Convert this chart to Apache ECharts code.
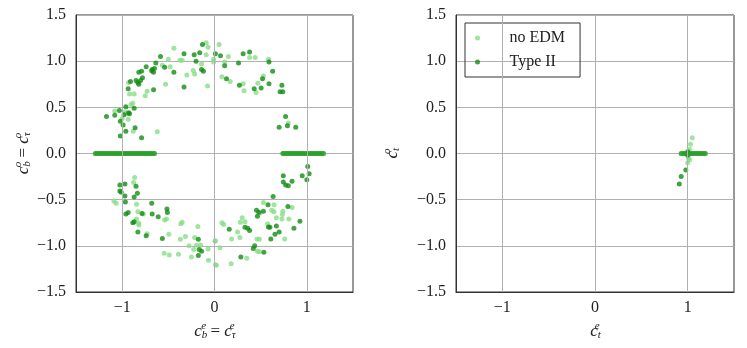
<!DOCTYPE html>
<html>
<head>
<meta charset="utf-8">
<script src="https://cdn.jsdelivr.net/npm/echarts@6/dist/echarts.min.js"></script>
</head>
<body style="margin:0; background:#fff">
<div id="chart" style="width:747px;height:348px"></div>
<script>
  // tick labels
  var xTicks = [-1, 0, 1];
  var yTicks = [-1.5, -1.0, -0.5, 0.0, 0.5, 1.0, 1.5];

  // left panel: c_b = c_tau
  var leftNoEdm = [
    [-1.08, 0.46], [-0.94, 0.43], [-0.935, 0.37], [-0.93, 0.77], [-0.92, 0.645], [-0.87, 0.645],
    [-0.905, 0.53], [-0.885, 0.545], [-0.88, 0.24], [-0.62, 0.235], [-0.73, 0.675], [-0.75, 0.625],
    [-0.53, 0.75], [-0.565, 0.955], [-0.50, 1.02], [-0.44, 1.14], [-0.48, 0.94], [-0.375, 1.01],
    [-0.35, 1.01], [-0.23, 0.90], [-0.215, 0.86], [-0.30, 0.85], [-0.14, 0.97], [-0.09, 1.20],
    [-0.07, 1.15], [-0.075, 0.73], [-0.09, 1.07], [-0.01, 1.02], [-0.01, 0.99], [0.05, 1.18],
    [0.11, 0.99], [0.15, 1.05], [0.08, 0.83], [0.17, 0.78], [0.31, 0.755], [0.32, 0.68],
    [0.38, 1.04], [0.44, 1.04], [0.45, 0.66], [0.47, 0.76], [0.53, 0.84], [0.585, 1.02],
    [0.80, 0.33], [-1.0, 0.38], [-0.97, 0.45],
    [-0.865, -0.26], [-0.875, -0.315], [-1.09, -0.515], [-1.065, -0.54], [-0.845, -0.55],
    [-0.83, -0.63], [-0.77, -0.655], [-0.845, -0.71], [-0.82, -0.755], [-0.82, -0.775],
    [-0.54, -0.72], [-0.52, -0.71], [-0.495, -0.875], [-0.73, -0.87], [-0.365, -0.76],
    [-0.35, -0.745], [-0.18, -0.79], [-0.37, -0.93], [-0.315, -0.90], [-0.215, -0.91],
    [-0.275, -1.00], [-0.225, -1.04], [-0.195, -0.995], [-0.15, -0.99], [-0.07, -1.035],
    [0.005, -0.95], [0.01, -1.205], [-0.545, -1.08], [-0.49, -1.10], [-0.39, -1.09],
    [-0.25, -1.12], [-0.065, -1.155],
    [0.53, -0.53], [0.645, -0.555], [0.84, -0.585], [0.62, -0.615], [0.645, -0.63],
    [0.74, -0.625], [0.735, -0.66], [0.67, -0.695], [0.73, -0.71], [0.805, -0.71],
    [0.495, -0.645], [0.30, -0.695], [0.33, -0.74], [0.08, -0.75], [0.10, -0.77],
    [0.28, -0.745], [0.575, -0.76], [0.25, -0.85], [0.185, -0.925], [0.275, -0.91],
    [0.46, -0.925], [0.485, -0.93], [0.76, -0.925], [0.01, -0.945], [0.06, -1.02],
    [0.465, -1.06], [0.485, -1.065], [0.35, -1.135], [0.18, -1.195], [0.02, -1.21]
  ];
  var leftType2 = [
    [-1.17, 0.40], [-1.08, 0.415], [-1.03, 0.465], [-0.98, 0.42], [-0.96, 0.505], [-0.93, 0.44],
    [-0.92, 0.43], [-0.87, 0.49], [-1.02, 0.35], [-0.99, 0.31], [-0.96, 0.24], [-1.02, 0.19],
    [-0.86, 0.28], [-0.79, 0.17], [-0.935, 0.70], [-0.91, 0.78], [-0.83, 0.77], [-0.82, 0.75],
    [-0.80, 0.79], [-0.78, 0.82], [-0.85, 0.79], [-0.82, 0.88], [-0.79, 0.89], [-0.74, 0.94],
    [-0.68, 0.895], [-0.675, 0.91], [-0.66, 0.88], [-0.65, 0.92], [-0.635, 0.98], [-0.585, 1.05],
    [-0.66, 0.69], [-0.54, 0.935], [-0.44, 0.88], [-0.33, 0.72], [-0.33, 1.08], [-0.22, 1.07],
    [-0.13, 1.18], [-0.16, 1.09], [-0.20, 1.00], [-0.14, 0.91], [-0.12, 0.89], [0.01, 1.08],
    [0.065, 1.06], [0.11, 0.95], [0.13, 0.81], [0.26, 0.98], [0.31, 1.08], [0.38, 1.10],
    [0.27, 0.74], [0.43, 0.70], [0.52, 0.81], [0.505, 0.71], [0.59, 0.99], [0.63, 0.89],
    [0.59, 0.755], [0.73, 0.74], [0.71, 0.67], [0.74, 0.67], [0.77, 0.40], [0.70, 0.285],
    [0.79, 0.30], [0.88, 0.285],
    [-1.025, -0.34], [-0.97, -0.33], [-0.85, -0.355], [-1.025, -0.405], [-1.01, -0.42],
    [-0.97, -0.46], [-0.87, -0.47], [-0.835, -0.43], [-0.965, -0.525], [-0.68, -0.54],
    [-0.96, -0.655], [-0.935, -0.64], [-0.785, -0.65], [-0.675, -0.655], [-0.515, -0.60],
    [-0.51, -0.64], [-0.61, -0.685], [-0.885, -0.75], [-0.87, -0.74], [-0.83, -0.85],
    [-0.74, -0.89], [-0.565, -0.92], [-0.175, -0.93], [-0.165, -1.04], [-0.14, -1.06],
    [-0.175, -1.105],
    [1.01, -0.14], [1.025, -0.22], [0.95, -0.24], [1.00, -0.285], [0.745, -0.24], [0.745, -0.31],
    [0.77, -0.34], [0.80, -0.35], [0.84, -0.30], [0.635, -0.465], [0.58, -0.555], [0.795, -0.575],
    [0.455, -0.615], [0.53, -0.625], [0.465, -0.68], [0.48, -0.635], [0.925, -0.735], [0.86, -0.81],
    [0.33, -0.80], [0.36, -0.81], [0.38, -0.835], [0.16, -0.82], [0.585, -0.795], [0.60, -0.80],
    [0.67, -0.785], [0.70, -0.85], [0.655, -0.875], [0.61, -0.925], [0.435, -1.00], [0.42, -1.03],
    [0.535, -1.07], [0.285, -1.12]
  ];
  // dense row of points on c^o = 0
  var leftBandX = [
    -1.29, -1.27, -1.25, -1.23, -1.21, -1.19, -1.17, -1.15, -1.13, -1.11, -1.09, -1.07,
    -1.05, -1.03, -1.01, -0.99, -0.97, -0.95, -0.93, -0.91, -0.89, -0.87, -0.85, -0.83,
    -0.81, -0.79, -0.77, -0.75, -0.73, -0.71, -0.69, -0.67, -0.65,
    0.74, 0.76, 0.78, 0.80, 0.82, 0.84, 0.86, 0.88, 0.90, 0.92, 0.94, 0.96,
    0.98, 1.00, 1.02, 1.04, 1.06, 1.08, 1.10, 1.12, 1.14, 1.16, 1.18
  ];

  // right panel: c_t
  var rightNoEdm = [
    [1.05, 0.17], [1.03, 0.10], [1.02, 0.045], [1.01, -0.05], [1.02, -0.07], [1.00, -0.10], [1.01, 0.02]
  ];
  var rightType2 = [
    [0.98, -0.18], [0.93, -0.25], [0.91, -0.33], [1.0, 0.02], [1.0, -0.02]
  ];
  var rightBandX = [
    0.93, 0.95, 0.97, 0.99, 1.01, 1.03, 1.05, 1.07, 1.09, 1.11, 1.13, 1.15, 1.17, 1.19
  ];

  var light = '#87dd87';
  var dark = '#138c13';
  var band = '#2a9f2a';
  var serif = '"Liberation Serif", "DejaVu Serif", serif';

  function fmtMinus(v, d) {
    var s = Number(v).toFixed(d);
    return s.replace('-', '\u2212');
  }

  var rich = {
    c: { fontFamily: serif, fontStyle: 'italic', fontSize: 17, color: '#222' },
    eq: { fontFamily: serif, fontSize: 17, color: '#222' },
    sup: { fontFamily: serif, fontStyle: 'italic', fontSize: 11, color: '#222', padding: [0, 0, 10, -6] },
    sub: { fontFamily: serif, fontStyle: 'italic', fontSize: 11, color: '#222', padding: [8, 0, 0, 0] }
  };

  function makeX(idx, name) {
    return {
      type: 'value', gridIndex: idx, min: -1.5, max: 1.5, interval: 0.5,
      name: name, nameLocation: 'middle', nameGap: 19,
      nameTextStyle: { rich: rich },
      axisLine: { show: true, onZero: false, lineStyle: { color: '#333', width: 1 } },
      axisTick: { show: false },
      axisLabel: {
        margin: 8, fontFamily: serif, fontSize: 16, color: '#222',
        // only the integer ticks are labelled
        formatter: function (v) { return xTicks.indexOf(v) >= 0 ? fmtMinus(v, 0) : ''; }
      },
      splitLine: { show: false }
    };
  }

  function makeY(idx, name, gap) {
    return {
      type: 'value', gridIndex: idx, min: -1.5, max: 1.5, interval: 0.5,
      name: name, nameLocation: 'middle', nameGap: gap, nameRotate: 90,
      nameTextStyle: { rich: rich },
      axisLine: { show: true, onZero: false, lineStyle: { color: '#333', width: 1 } },
      axisTick: { show: false },
      axisLabel: {
        margin: 10, fontFamily: serif, fontSize: 16, color: '#222',
        formatter: function (v) { return fmtMinus(v, 1); }
      },
      splitLine: { show: true, lineStyle: { color: '#b0b0b0', width: 1 } }
    };
  }

  function bandPoints(xs) {
    return xs.map(function (x) { return [x, 0]; });
  }

  function scatter(name, idx, data, color) {
    return {
      name: name, type: 'scatter', xAxisIndex: idx, yAxisIndex: idx,
      data: data, symbol: 'circle', symbolSize: 5,
      itemStyle: { color: color }
    };
  }

  // vertical grid lines at the integer x ticks
  var xGrid = {
    symbol: 'none',
    label: { show: false },
    lineStyle: { color: '#b0b0b0', width: 1, type: 'solid' },
    data: xTicks.map(function (v) { return { xAxis: v }; })
  };

  var series = [
    scatter('no EDM', 0, leftNoEdm.concat(bandPoints(leftBandX)), light),
    scatter('Type II', 0, leftType2, dark),
    scatter('Type II', 0, bandPoints(leftBandX), band),
    scatter('no EDM', 1, rightNoEdm.concat(bandPoints(rightBandX)), light),
    scatter('Type II', 1, rightType2, dark),
    scatter('Type II', 1, bandPoints(rightBandX), band)
  ];
  series[0].markLine = xGrid;
  series[3].markLine = xGrid;

  var chart = echarts.init(document.getElementById('chart'));
  chart.setOption({
    animation: false,
    grid: [
      { left: 76, top: 15, width: 277, height: 277, show: true, borderColor: '#333', borderWidth: 1 },
      { left: 456, top: 15, width: 278, height: 277, show: true, borderColor: '#333', borderWidth: 1 }
    ],
    legend: {
      data: ['no EDM', 'Type II'],
      left: 465, top: 23, orient: 'vertical',
      icon: 'circle', itemWidth: 30, itemHeight: 5, itemGap: 8,
      padding: [7, 15, 7, 10],
      borderColor: '#333', borderWidth: 1, borderRadius: 0,
      formatter: function (name) { return '   ' + name; },
      textStyle: { fontFamily: serif, fontSize: 16, color: '#222' }
    },
    xAxis: [
      makeX(0, '{c|c}{sub|b}{sup|e}{eq| = }{c|c}{sub|\u03c4}{sup|e}'),
      makeX(1, '{c|c}{sub|t}{sup|e}')
    ],
    yAxis: [
      makeY(0, '{c|c}{sub|b}{sup|o}{eq| = }{c|c}{sub|\u03c4}{sup|o}', 42),
      makeY(1, '{c|c}{sub|t}{sup|o}', 53)
    ],
    series: series
  });
</script>
</body>
</html>
